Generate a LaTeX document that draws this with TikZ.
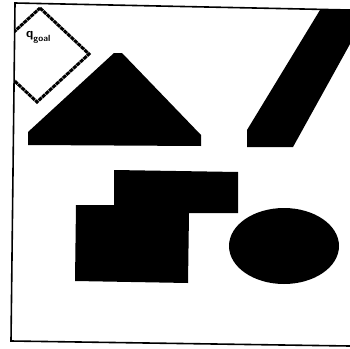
\documentclass[tikz,border=0pt]{standalone}
\begin{document}
\begin{tikzpicture}[x=1pt,y=-1pt,
  obst/.style={fill=black,draw=none},
  frameline/.style={line width=1.6pt,line join=miter},
  goalbox/.style={line width=3pt,dash pattern=on 4pt off 0.7pt}]
\useasboundingbox (0,0) rectangle (350,348);
\begin{scope}
\clip (0,0) rectangle (350,348);
% frame
\draw[frameline] (350,10) coordinate (tr) -- (15,3) coordinate (tl) -- (11,341) coordinate (bl) -- (350,346) coordinate (br);
% goal region, clipped by frame
\begin{scope}
\clip (tl) -- (tr) -- (br) -- (bl) -- cycle;
\draw[goalbox] (40,8) coordinate (gt) -- (89,54) coordinate (gr) -- (37,102) coordinate (gb) -- (-12,56) coordinate (gl) -- cycle;
\end{scope}
\node[inner sep=0pt,anchor=base west] (qgoal) at (26,37) {\sffamily\bfseries\fontsize{13}{13}\selectfont q\raisebox{-4pt}{\fontsize{9}{9}\selectfont goal}};
% triangle
\fill[obst] (28,145) -- (28,132) -- (114,53) -- (122,53) -- (201,135) -- (201,146) -- cycle;
% parallelogram
\fill[obst] (247,147) -- (247,130) -- (320,10) -- (350,10) -- (350,44) -- (293,147) -- cycle;
% rectangles
\fill[obst] (114,170) -- (238,172) -- (238,213) -- (189,213) -- (188,283) -- (75,281) -- (76,205) -- (114,205) -- cycle;
% ellipse obstacle
\fill[obst] (284,246) ellipse [x radius=55, y radius=38];
\end{scope}
\end{tikzpicture}
\end{document}
